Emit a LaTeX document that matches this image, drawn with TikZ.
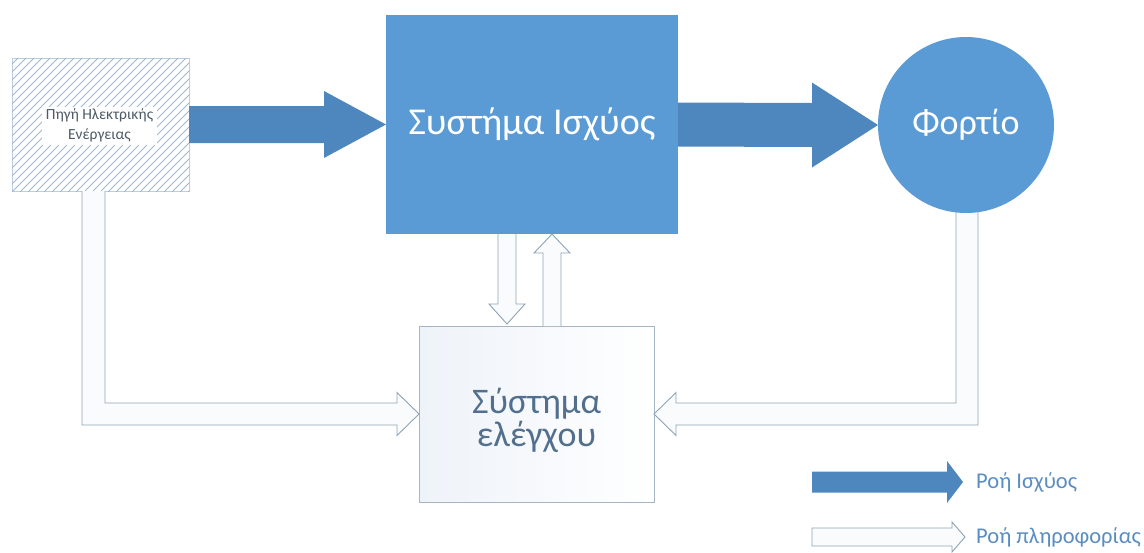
\documentclass[tikz,border=0pt]{standalone}
\usepackage{fontspec}
\setmainfont{Carlito}
\usetikzlibrary{calc}
\definecolor{sysblue}{HTML}{5B9BD5}
\definecolor{flowblue}{HTML}{4E86BE}
\definecolor{hatchgrey}{HTML}{9FB8CE}
\definecolor{infoline}{HTML}{8EA3B5}
\definecolor{infofill}{HTML}{F9FBFD}
\definecolor{ctrlshade}{HTML}{EEF3F9}
\definecolor{ctrltext}{HTML}{52708E}
\definecolor{legendtext}{HTML}{5A8DC2}
\definecolor{srctext}{HTML}{4E5B68}
\begin{document}
\begin{tikzpicture}[x=1pt,y=-1pt,
  block/.style={rectangle, fill=sysblue, text=white, inner sep=0pt, outer sep=0pt},
  powerflow/.style={fill=flowblue},
  infoflow/.style={draw=infoline, line width=0.9pt, fill=infofill, line join=miter},
  legendlabel/.style={anchor=west, inner sep=0pt, text=legendtext, font=\fontsize{22.5}{25}\selectfont}]
\useasboundingbox (0,0) rectangle (1144,552);

% power source with hatching
\node[rectangle, draw=hatchgrey!70, line width=0.6pt, minimum width=177, minimum height=133,
      inner sep=0pt, outer sep=0pt] (src) at (100.5,124.5) {};
\begin{scope}
  \clip (src.south west) rectangle (src.north east);
  \foreach \k in {-140,-132,...,196}
    \draw[hatchgrey, line width=0.9pt] (\k,200) -- ++(200,-200);
\end{scope}
\node[fill=white, inner sep=0pt, minimum width=115, minimum height=38, align=center,
      text=srctext, font=\fontsize{15.5}{19.5}\selectfont] (srclabel) at (99.5,125.5)
  {Πηγή Ηλεκτρικής\\Ενέργειας};

% power system and load
\node[block, minimum width=292, minimum height=219, font=\fontsize{38}{44}\selectfont]
  (sys) at (532,124.5) {Συστήμα Ισχύος};
\node[circle, minimum size=176, inner sep=0pt, outer sep=0pt] (load) at (966,125) {};

% control system
\node[rectangle, draw=infoline!80, line width=0.9pt, left color=ctrlshade, right color=white,
      minimum width=235, minimum height=176, inner sep=0pt, outer sep=0pt]
  (ctrl) at (536.5,414) {};
\node[align=center, inner sep=0pt, text=ctrltext, font=\fontsize{36}{33}\selectfont]
  (ctrllabel) at ($(ctrl.center)+(0,6)$) {Σύστημα\\ελέγχου};

% power flow arrows
\fill[powerflow] ($(src.east)+(0,-18.5)$) -- ($(sys.west)+(-62,-18.5)$) -- ++(0,-15)
  -- (sys.west) -- ++(-62,33.5) -- ++(0,-15) -- ($(src.east)+(0,18.5)$) -- cycle;
\fill[powerflow] ($(sys.east)+(0,-22)$) -- ($(load.west)+(-66,-22)$) -- ++(0,-20.5)
  -- (load.west) -- ++(-66,42.5) -- ++(0,-20.5) -- ($(sys.east)+(0,22)$) -- cycle;

% information flow arrows
\draw[infoflow] ($(src.south)+(-18.5,0)$) |- ($(ctrl.west)+(-22,11)$) -- ++(0,10.5)
  -- (ctrl.west) -- ++(-22,-21.5) -- ++(0,10.5) -| ($(src.south)+(4.5,0)$);
\draw[infoflow] ($(load.south)+(12,-12)$) |- ($(ctrl.east)+(22,11)$) -- ++(0,10.5)
  -- (ctrl.east) -- ++(22,-21.5) -- ++(0,10.5) -| ($(load.south)+(-10,-12)$);
\draw[infoflow] ($(sys.south)+(-34,0)$) -- ++(0,70) -- ++(-9,0)
  -- ($(ctrl.north)+(-29.5,-2)$) -- ($(sys.south)+(-7,70)$) -- ++(-9,0) -- ++(0,-70);
\draw[infoflow] ($(ctrl.north)+(6.5,0)$) -- ++(0,-73) -- ++(-9,0)
  -- ($(sys.south)+(20,0)$) -- ($(ctrl.north)+(33.5,-73)$) -- ++(-9,0) -- ++(0,73);

% the load circle, drawn over the start of its information arrow
\fill[sysblue] (load.center) circle (88);
\node[text=white, inner sep=0pt, font=\fontsize{36}{40}\selectfont] (loadlabel) at (load.center) {Φορτίο};

% legend
\node[legendlabel] (lgpower) at (976,482) {Ροή Ισχύος};
\node[legendlabel] (lginfo) at (976,537) {Ροή πληροφορίας};
\fill[powerflow] ($(lgpower.west)+(-164,-10.5)$) -- ($(lgpower.west)+(-29,-10.5)$) -- ++(0,-10.5)
  -- ($(lgpower.west)+(-13,0)$) -- ++(-16,21) -- ++(0,-10.5) -- ++(-135,0) -- cycle;
\draw[infoflow] ($(lginfo.west)+(-164,-9)$) -- ($(lginfo.west)+(-24,-9)$) -- ++(0,-6)
  -- ($(lginfo.west)+(-11,0)$) -- ++(-13,15) -- ++(0,-6) -- ++(-140,0) -- cycle;
\end{tikzpicture}
\end{document}
